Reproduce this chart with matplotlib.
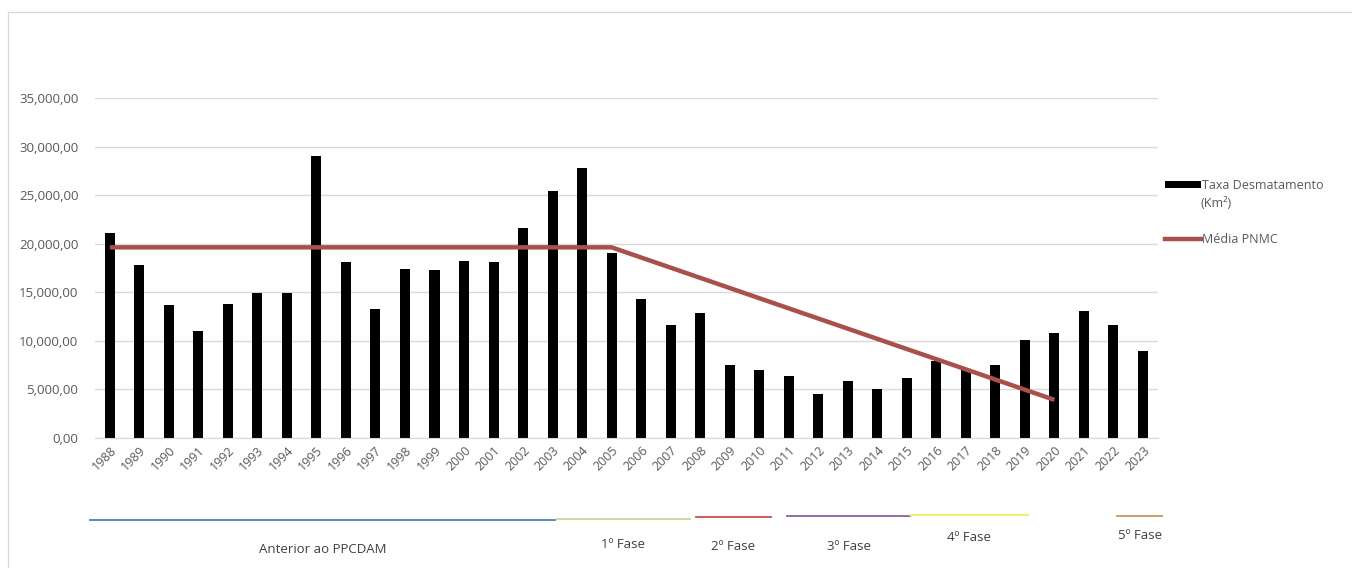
import matplotlib
matplotlib.use("Agg")
import matplotlib.pyplot as plt
from matplotlib.ticker import FuncFormatter, MultipleLocator
from matplotlib.patches import Rectangle, Patch
from matplotlib.lines import Line2D
import matplotlib.transforms as mtransforms

# Taxa anual de desmatamento (PRODES) e meta média do PNMC
anos = list(range(1988, 2024))
taxa_desmatamento = [
    21050, 17770, 13730, 11030, 13786, 14896, 14896, 29059, 18161, 13227,
    17383, 17259, 18226, 18165, 21651, 25396, 27772, 19014, 14286, 11651,
    12911, 7464, 7000, 6418, 4571, 5891, 5012, 6207, 7893, 6947,
    7536, 10129, 10851, 13038, 11594, 9001,
]
media_pnmc = [
    19625, 19625, 19625, 19625, 19625, 19625, 19625, 19625, 19625, 19625,
    19625, 19625, 19625, 19625, 19625, 19625, 19625, 19625, 18578, 17532,
    16485, 15438, 14392, 13345, 12298, 11252, 10205, 9158, 8112, 7065,
    6018, 4972, 3925,
]

# Fases do PPCDAM (início e fim em posição de categoria)
fases = ["Anterior ao PPCDAM", "1º Fase", "2º Fase", "3º Fase", "4º Fase", "5º Fase"]
fase_inicio = [-0.68, 15.15, 19.86, 22.94, 27.11, 34.12]
fase_fim = [15.08, 19.65, 22.40, 27.11, 31.11, 35.65]
fase_cores = ["#4A7EBB", "#C4D79B", "#C0504D", "#8064A2", "#F0F060", "#C8955A"]

CINZA = "#595959"
VERMELHO = "#A9504C"

plt.rcParams["font.family"] = ["Open Sans", "DejaVu Sans"]

fig = plt.figure(figsize=(13.52, 5.68), dpi=100)
ax = fig.add_axes([0.0703, 0.2289, 0.786, 0.5986])

x = list(range(len(anos)))
ax.bar(x, taxa_desmatamento, width=0.34, color="black", zorder=2)
ax.plot(x[:len(media_pnmc)], media_pnmc, color=VERMELHO, linewidth=3.2,
        solid_capstyle="butt", zorder=3)

ax.set_xlim(-0.5, len(anos) - 0.5)
ax.set_ylim(0, 35000)
ax.yaxis.set_major_locator(MultipleLocator(5000))
ax.yaxis.set_major_formatter(FuncFormatter(lambda v, p: f"{int(v):,},00"))
ax.grid(axis="y", color="#D9D9D9", linewidth=1, zorder=0)
for s in ["top", "right", "left"]:
    ax.spines[s].set_visible(False)
ax.spines["bottom"].set_color("#D9D9D9")
ax.tick_params(axis="both", length=0, colors=CINZA)
ax.tick_params(axis="y", pad=12, labelsize=9.5)
ax.tick_params(axis="x", pad=4, labelsize=9)
ax.set_xticks(x)
ax.set_xticklabels(anos, rotation=45, ha="right", rotation_mode="anchor")

# Legenda à direita
handles = [Patch(facecolor="black"),
           Line2D([], [], color=VERMELHO, linewidth=3.2)]
leg = fig.legend(handles, ["Taxa Desmatamento", "Média PNMC"],
                 loc="upper left", bbox_to_anchor=(0.853, 0.705),
                 frameon=False, fontsize=9, labelcolor=CINZA,
                 handlelength=2.9, handleheight=0.45, handletextpad=0.1,
                 labelspacing=3.3)
fig.text(0.888, 0.641, "(Km²)", fontsize=9, color=CINZA, va="center")

# Linhas das fases abaixo do eixo
trans = mtransforms.blended_transform_factory(ax.transData, fig.transFigure)
fase_y = [0.0845, 0.087, 0.0898, 0.0915, 0.0935, 0.092]
rot_y = [0.032, 0.041, 0.037, 0.037, 0.053, 0.058]
for nome, a, b, cor, yl, yt in zip(fases, fase_inicio, fase_fim, fase_cores, fase_y, rot_y):
    ax.add_line(Line2D([a, b], [yl, yl], transform=trans, color=cor,
                       linewidth=1.3, clip_on=False))
    ax.text((a + b) / 2, yt, nome, transform=trans, ha="center", va="center",
            fontsize=9.5, color="#404040", clip_on=False)

# Moldura em volta do gráfico
fig.add_artist(Rectangle((0.006, -0.1), 1.2, 0.1 + 0.979, transform=fig.transFigure,
                         fill=False, edgecolor="#D9D9D9", linewidth=1))

fig.savefig("out.png", dpi=100, facecolor="white")
